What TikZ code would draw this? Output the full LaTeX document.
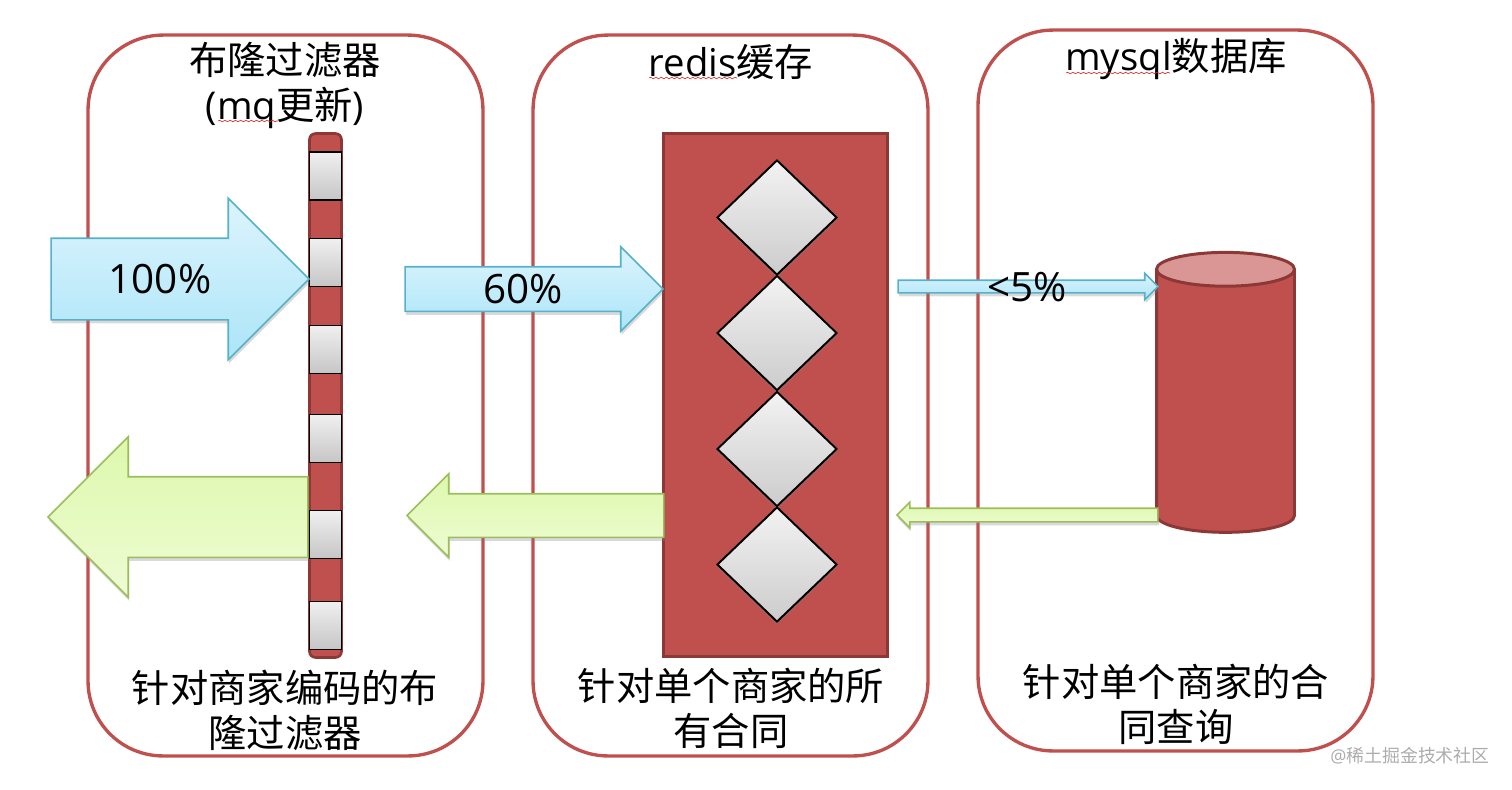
\documentclass[tikz,border=0pt]{standalone}
\usepackage{fontspec}
\setmainfont{Open Sans}
\newfontfamily\cjk{Noto Sans CJK SC}
\usepackage{xcolor}
\usetikzlibrary{calc,decorations.pathmorphing,shadows,shapes,shapes.arrows,shapes.geometric}
\definecolor{redfill}{HTML}{C0504D}
\definecolor{redline}{HTML}{8C3836}
\definecolor{redtop}{HTML}{D99694}
\definecolor{blueline}{HTML}{55B2C9}
\definecolor{bluetop}{HTML}{DDF4FD}
\definecolor{bluelow}{HTML}{ABE5F8}
\definecolor{greenline}{HTML}{9DBD5C}
\definecolor{greentop}{HTML}{DDF8AC}
\definecolor{greenlow}{HTML}{EEFCD4}
\tikzset{%
	panel/.style     = {draw=redfill, line width=1.9pt, rectangle, rounded corners=1.5cm, minimum width=7.9cm, minimum height=14.42cm},
	redbox/.style    = {draw=redline, line width=1.5pt, fill=redfill, rectangle, inner sep=0pt},
	cellbox/.style   = {draw=black, line width=1.1pt, rectangle, inner sep=0pt, minimum width=0.64cm, minimum height=0.96cm, top color=gray!12, bottom color=gray!45},
	gem/.style       = {draw=black, line width=1.1pt, diamond, inner sep=0pt, minimum width=2.4cm, minimum height=2.3cm, top color=gray!10, bottom color=gray!40, drop shadow={shadow xshift=0pt, shadow yshift=-2pt, opacity=0.3}},
	bluearrow/.style = {draw=blueline, line width=0.9pt, single arrow, anchor=tip, outer sep=0pt, inner sep=0pt, top color=bluetop, bottom color=bluelow, drop shadow={shadow xshift=0.5pt, shadow yshift=-2pt, opacity=0.3}},
	greenarrow/.style= {draw=greenline, line width=0.9pt, single arrow, shape border rotate=180, anchor=tip, outer sep=0pt, inner sep=0pt, top color=greentop, bottom color=greenlow, drop shadow={shadow xshift=0.5pt, shadow yshift=-2pt, opacity=0.3}},
	caption/.style   = {align=center, font=\fontsize{21.8}{25.6}\selectfont},
	rate/.style      = {font=\fontsize{23}{26}\selectfont},
	squiggle/.style  = {draw=red!70!gray, line width=0.35pt, decorate, decoration={snake, amplitude=0.45pt, segment length=3pt}},
}
\begin{document}
\begin{tikzpicture}[x=0.02cm,y=-0.02cm]
	\useasboundingbox (0,0) rectangle (1512,789);
	% the three panels
	\node[panel] (bloompanel) at (285.5,395.5) {};
	\node[panel] (redispanel) at (730.5,395.5) {};
	\node[panel] (mysqlpanel) at (1175.5,390.5) {};
	% titles
	\node[caption] (bloomtitle) at (285,85) {{\cjk 布隆过滤器}\\(mq{\cjk 更新})};
	\node[caption] (redistitle) at (731,62) {redis{\cjk 缓存}};
	\node[caption] (mysqltitle) at (1176,59) {mysql{\cjk 数据库}};
	\draw[squiggle] (218,121) -- (278,121);  % spell check marks
	\draw[squiggle] (649,78) -- (737,78);
	\draw[squiggle] (1066,73) -- (1170,73);
	% filter bar
	\node[redbox, rounded corners=0.12cm, minimum width=0.64cm, minimum height=10.48cm] (bloombar) at (325.5,395.5) {};
	\node[cellbox] (cella) at (325.5,176) {};
	\node[cellbox] (cellb) at (325.5,262.5) {};
	\node[cellbox] (cellc) at (325.5,349.5) {};
	\node[cellbox] (celld) at (325.5,438.5) {};
	\node[cellbox] (celle) at (325.5,534.5) {};
	\node[cellbox] (cellf) at (325.5,625.5) {};
	% redis block
	\node[redbox, minimum width=4.48cm, minimum height=10.46cm] (redisbox) at (775.5,395) {};
	\node[gem] (gema) at (777,217.5) {};
	\node[gem] (gemb) at (777,333) {};
	\node[gem] (gemc) at (777,449) {};
	\node[gem] (gemd) at (777,564.5) {};
	% mysql cylinder
	\node[cylinder, shape border rotate=90, draw=redline, line width=1.7pt, shape aspect=0.245, cylinder uses custom fill, cylinder body fill=redfill, cylinder end fill=redtop, inner xsep=1.38cm, inner ysep=0.1cm, minimum height=5.6cm] (mysqldb) at (1225.5,410) {};
	% request arrows
	\node[bluearrow, minimum height=5.16cm, minimum width=3.2cm, text height=1.6cm, single arrow head extend=0.8cm] (reqall) at (309,279) {};
	\node[bluearrow, minimum height=5.16cm, minimum width=1.66cm, text height=0.86cm, single arrow head extend=0.4cm] (reqredis) at (663,289) {};
	\node[bluearrow, minimum height=5.2cm, minimum width=0.5cm, text height=0.22cm, single arrow head extend=0.14cm] (reqdb) at (1158,286.5) {};
	% response arrows
	\node[greenarrow, minimum height=5.2cm, minimum width=3.18cm, text height=1.58cm, single arrow head extend=0.8cm] (respall) at (48,517) {};
	\node[greenarrow, minimum height=5.14cm, minimum width=1.64cm, text height=0.84cm, single arrow head extend=0.4cm] (respredis) at (407,515.5) {};
	\node[greenarrow, minimum height=5.22cm, minimum width=0.48cm, text height=0.24cm, single arrow head extend=0.12cm] (respdb) at (897,515) {};
	% rates
	\node[rate] (rateall) at (160,279) {100\%};
	\node[rate] (rateredis) at (523,289) {60\%};
	\node[rate] (ratedb) at (1027,287) {<5\%};
	% bottom captions
	\node[caption] (bloomnote) at (285,710) {\cjk 针对商家编码的布\\\cjk 隆过滤器};
	\node[caption] (redisnote) at (731,708) {\cjk 针对单个商家的所\\\cjk 有合同};
	\node[caption] (mysqlnote) at (1176,704) {\cjk 针对单个商家的合\\\cjk 同查询};
	\node[text=gray!65, font=\fontsize{10.2}{12}\selectfont] (watermark) at (1410,756) {@{\cjk 稀土掘金技术社区}};
\end{tikzpicture}
\end{document}
